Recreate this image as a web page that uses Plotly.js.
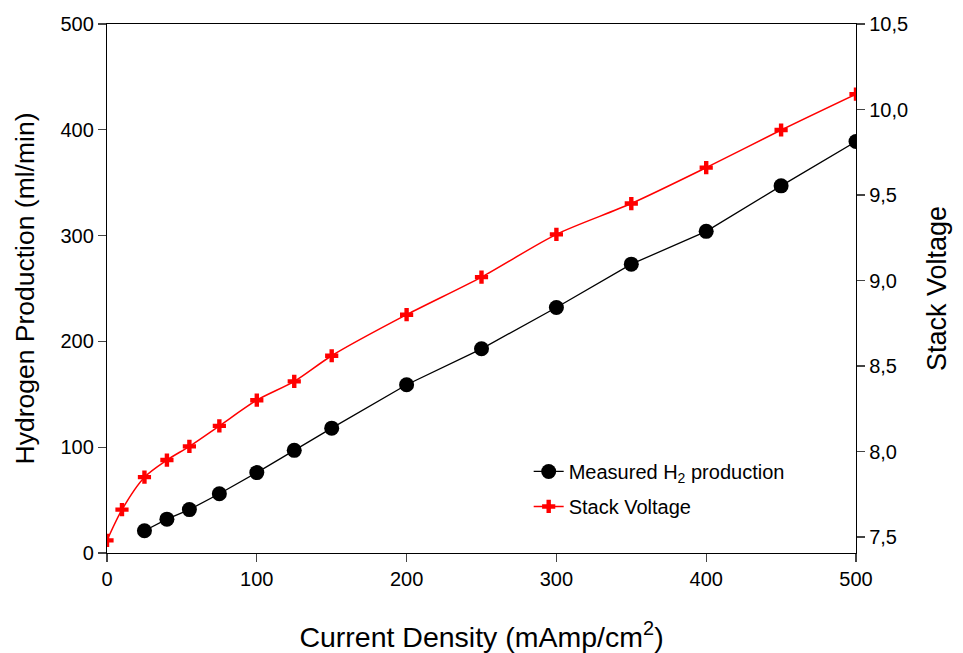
<!DOCTYPE html>
<html>
<head>
<meta charset="utf-8">
<script src="https://cdn.plot.ly/plotly-3.0.1.min.js"></script>
<style>html,body{margin:0;padding:0;background:#fff;}#chart{width:963px;height:653px;}</style>
</head>
<body>
<div id="chart"></div>
<script>
const h2Current = [25, 40, 55, 75, 100, 125, 150, 200, 250, 300, 350, 400, 450, 500];
const h2Production = [21, 32, 41, 56, 76, 97, 118, 159, 193, 232, 273, 304, 347, 389];
const vCurrent = [0, 10, 25, 40, 55, 75, 100, 125, 150, 200, 250, 300, 350, 400, 450, 500];
const stackVoltage = [7.48, 7.66, 7.85, 7.95, 8.03, 8.15, 8.30, 8.41, 8.56, 8.80, 9.02, 9.27, 9.45, 9.66, 9.88, 10.09];
const xTicks = [0, 100, 200, 300, 400, 500];
const yTicks = [0, 100, 200, 300, 400, 500];
const y2Ticks = [7.5, 8.0, 8.5, 9.0, 9.5, 10.0, 10.5];

const font = {family: 'Liberation Sans, Arial, sans-serif', color: '#000'};
const f = s => Object.assign({size: s}, font);

const traces = [
  {
    x: h2Current, y: h2Production, name: 'Measured H<sub>2</sub> production', legendgroup: 'a',
    mode: 'lines+markers', type: 'scatter',
    line: {color: '#000', width: 1.3},
    marker: {symbol: 'circle', size: 15, color: '#000'}
  },
  {
    x: vCurrent, y: stackVoltage, name: 'Stack Voltage', yaxis: 'y2', legendgroup: 'b',
    mode: 'lines+markers', type: 'scatter',
    line: {color: '#ff0000', width: 1.5, shape: 'spline', smoothing: 0.8},
    marker: {symbol: 'cross', size: 11, color: '#ff0000'}
  }
];

const layout = {
  width: 963, height: 653,
  margin: {l: 107, r: 107, t: 24, b: 100},
  separators: ',.',
  paper_bgcolor: '#fff', plot_bgcolor: '#fff',
  font: f(20),
  showlegend: true,
  legend: {x: 0.563, y: 0.191, xanchor: 'left', yanchor: 'top', bgcolor: 'rgba(0,0,0,0)',
           font: f(20), tracegroupgap: 6, traceorder: 'grouped'},
  xaxis: {
    range: [0, 500], tickvals: xTicks, ticks: 'outside', ticklen: 8, tickwidth: 1.2,
    showline: true, linecolor: '#000', linewidth: 1.2, mirror: true, showgrid: false, zeroline: false,
    tickfont: f(20),
    title: {text: 'Current Density (mAmp/cm<sup>2</sup>)', font: f(28.5), standoff: 40}
  },
  yaxis: {
    range: [0, 500], tickvals: yTicks, ticks: 'outside', ticklen: 8, tickwidth: 1.2,
    showline: true, linecolor: '#000', linewidth: 1.2, showgrid: false, zeroline: false,
    tickfont: f(20),
    title: {text: 'Hydrogen Production (ml/min)', font: f(26.5), standoff: 18}
  },
  yaxis2: {
    overlaying: 'y', side: 'right', range: [7.4064, 10.5], tickvals: y2Ticks, tickformat: '.1f',
    ticks: 'outside', ticklen: 8, tickwidth: 1.2,
    showline: true, linecolor: '#000', linewidth: 1.2, showgrid: false, zeroline: false,
    tickfont: f(20),
    title: {text: 'Stack Voltage', font: f(27), standoff: 20}
  }
};

Plotly.newPlot('chart', traces, layout, {displayModeBar: false, staticPlot: true});
</script>
</body>
</html>
